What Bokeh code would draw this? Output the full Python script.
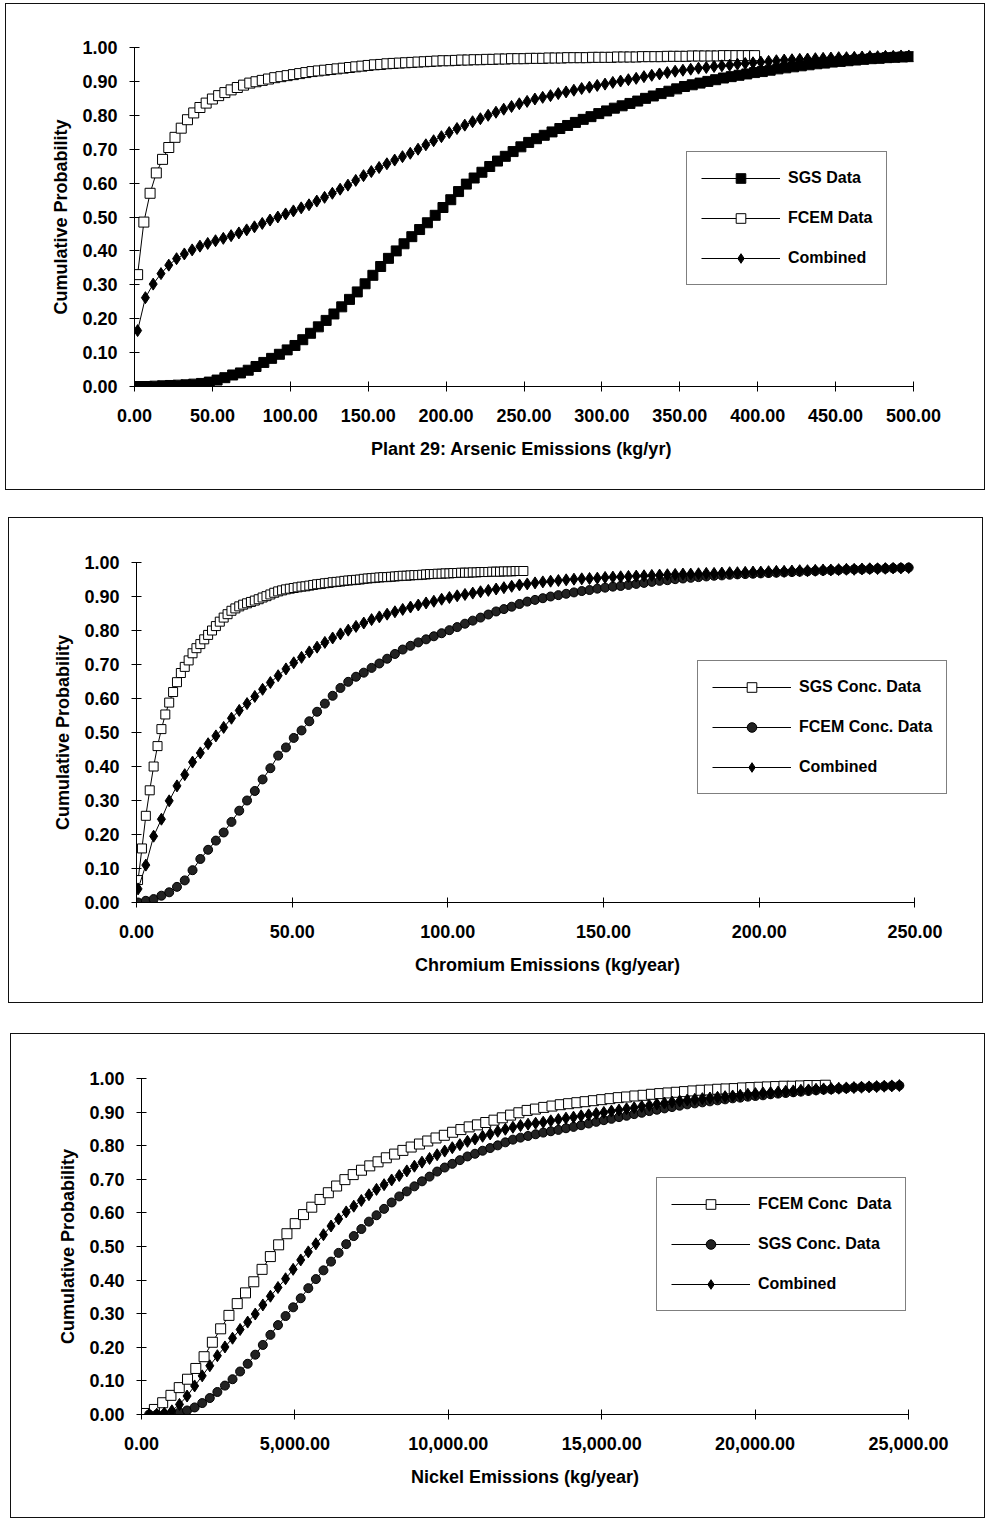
from bokeh.plotting import figure
from bokeh.models import Range1d, FixedTicker, NumeralTickFormatter, Legend, LegendItem
from bokeh.layouts import column
from bokeh.embed import file_html
from bokeh.resources import INLINE

FONT = "Liberation Sans"
Y_TICKS = [0.0, 0.1, 0.2, 0.3, 0.4, 0.5, 0.6, 0.7, 0.8, 0.9, 1.0]

# ---------------- Panel 1: Plant 29 Arsenic ----------------
p1_x_ticks = [0, 50, 100, 150, 200, 250, 300, 350, 400, 450, 500]
p1_sgs_x0, p1_sgs_dx = 3, 5
p1_sgs_y = [0.000, 0.000, 0.001, 0.002, 0.003, 0.004, 0.005, 0.007, 0.009, 0.013,
            0.019, 0.026, 0.034, 0.040, 0.048, 0.059, 0.071, 0.083, 0.095, 0.108,
            0.121, 0.138, 0.157, 0.176, 0.195, 0.214, 0.235, 0.257, 0.279, 0.303,
            0.328, 0.354, 0.378, 0.400, 0.421, 0.442, 0.463, 0.483, 0.505, 0.528,
            0.551, 0.575, 0.597, 0.615, 0.632, 0.649, 0.665, 0.679, 0.693, 0.707,
            0.720, 0.731, 0.741, 0.751, 0.761, 0.770, 0.779, 0.788, 0.796, 0.805,
            0.813, 0.821, 0.828, 0.835, 0.842, 0.850, 0.857, 0.864, 0.871, 0.878,
            0.885, 0.890, 0.895, 0.900, 0.905, 0.910, 0.914, 0.918, 0.922, 0.926,
            0.929, 0.933, 0.937, 0.940, 0.943, 0.946, 0.949, 0.952, 0.954, 0.957,
            0.959, 0.961, 0.963, 0.965, 0.967, 0.968, 0.970, 0.971, 0.972, 0.973]
p1_fcem_x0, p1_fcem_dx = 2, 4
p1_fcem_y = [0.330, 0.485, 0.570, 0.630, 0.670, 0.705, 0.735, 0.762, 0.787, 0.807,
             0.823, 0.836, 0.848, 0.858, 0.867, 0.875, 0.882, 0.889, 0.895, 0.899,
             0.903, 0.907, 0.911, 0.914, 0.917, 0.920, 0.923, 0.926, 0.929, 0.931,
             0.933, 0.935, 0.937, 0.939, 0.941, 0.943, 0.945, 0.947, 0.949, 0.950,
             0.952, 0.953, 0.954, 0.955, 0.956, 0.957, 0.958, 0.959, 0.960, 0.961,
             0.961, 0.962, 0.963, 0.963, 0.964, 0.964, 0.965, 0.965, 0.966, 0.966,
             0.967, 0.967, 0.967, 0.968, 0.968, 0.968, 0.969, 0.969, 0.969, 0.970,
             0.970, 0.970, 0.970, 0.971, 0.971, 0.971, 0.971, 0.972, 0.972, 0.972,
             0.972, 0.973, 0.973, 0.973, 0.973, 0.974, 0.974, 0.974, 0.974, 0.975,
             0.975, 0.975, 0.975, 0.975, 0.976, 0.976, 0.976, 0.976, 0.976, 0.976]
p1_comb_x0, p1_comb_dx = 2, 5
p1_comb_y = [0.165, 0.262, 0.302, 0.333, 0.358, 0.377, 0.391, 0.403, 0.414, 0.422,
             0.430, 0.437, 0.445, 0.453, 0.462, 0.471, 0.481, 0.491, 0.500, 0.509,
             0.518, 0.527, 0.536, 0.547, 0.558, 0.570, 0.582, 0.594, 0.608, 0.622,
             0.634, 0.646, 0.657, 0.668, 0.678, 0.688, 0.700, 0.713, 0.725, 0.737,
             0.749, 0.761, 0.771, 0.781, 0.790, 0.800, 0.809, 0.818, 0.826, 0.834,
             0.841, 0.848, 0.853, 0.858, 0.864, 0.869, 0.874, 0.879, 0.883, 0.888,
             0.892, 0.897, 0.901, 0.905, 0.909, 0.914, 0.918, 0.922, 0.926, 0.930,
             0.933, 0.936, 0.939, 0.941, 0.944, 0.946, 0.948, 0.951, 0.953, 0.955,
             0.957, 0.959, 0.961, 0.963, 0.964, 0.965, 0.966, 0.967, 0.968, 0.969,
             0.970, 0.970, 0.971, 0.972, 0.973, 0.973, 0.974, 0.974, 0.975, 0.975]

# ---------------- Panel 2: Chromium ----------------
p2_x_ticks = [0, 50, 100, 150, 200, 250]
p2_sgs_x0, p2_sgs_dx = 0.5, 1.25
p2_sgs_y = [0.066, 0.159, 0.255, 0.330, 0.400, 0.460, 0.510, 0.553, 0.588, 0.619,
            0.648, 0.675, 0.693, 0.712, 0.733, 0.748, 0.760, 0.774, 0.787, 0.800,
            0.813, 0.826, 0.838, 0.848, 0.858, 0.865, 0.871, 0.876, 0.880, 0.884,
            0.888, 0.892, 0.897, 0.901, 0.906, 0.911, 0.915, 0.918, 0.921, 0.923,
            0.925, 0.927, 0.929, 0.930, 0.932, 0.934, 0.936, 0.937, 0.939, 0.940,
            0.942, 0.943, 0.944, 0.946, 0.947, 0.948, 0.949, 0.950, 0.952, 0.953,
            0.954, 0.955, 0.956, 0.957, 0.957, 0.958, 0.959, 0.960, 0.961, 0.961,
            0.962, 0.963, 0.963, 0.964, 0.965, 0.966, 0.966, 0.967, 0.967, 0.968,
            0.968, 0.969, 0.969, 0.970, 0.970, 0.970, 0.971, 0.971, 0.972, 0.972,
            0.972, 0.973, 0.973, 0.973, 0.974, 0.974, 0.974, 0.975, 0.975, 0.975]
p2_fcem_x0, p2_fcem_dx = 0.5, 2.5
p2_fcem_y = [0.000, 0.005, 0.010, 0.020, 0.030, 0.046, 0.065, 0.095, 0.128, 0.155,
             0.182, 0.206, 0.237, 0.270, 0.300, 0.328, 0.362, 0.395, 0.432, 0.456,
             0.484, 0.506, 0.533, 0.561, 0.585, 0.608, 0.631, 0.649, 0.664, 0.676,
             0.690, 0.703, 0.717, 0.731, 0.744, 0.755, 0.765, 0.774, 0.783, 0.792,
             0.801, 0.810, 0.820, 0.829, 0.838, 0.847, 0.856, 0.863, 0.870, 0.878,
             0.885, 0.890, 0.895, 0.900, 0.904, 0.908, 0.912, 0.916, 0.919, 0.923,
             0.926, 0.929, 0.931, 0.934, 0.937, 0.940, 0.943, 0.946, 0.948, 0.951,
             0.953, 0.955, 0.957, 0.959, 0.961, 0.962, 0.964, 0.965, 0.966, 0.967,
             0.968, 0.969, 0.970, 0.971, 0.972, 0.973, 0.974, 0.975, 0.976, 0.977,
             0.978, 0.979, 0.980, 0.980, 0.981, 0.982, 0.982, 0.983, 0.984, 0.985]
p2_comb_x0, p2_comb_dx = 0.5, 2.5
p2_comb_y = [0.040, 0.110, 0.195, 0.245, 0.299, 0.343, 0.376, 0.413, 0.440, 0.467,
             0.490, 0.515, 0.542, 0.565, 0.585, 0.606, 0.627, 0.647, 0.667, 0.687,
             0.705, 0.721, 0.737, 0.751, 0.765, 0.778, 0.790, 0.801, 0.812, 0.822,
             0.832, 0.840, 0.848, 0.855, 0.862, 0.869, 0.875, 0.881, 0.886, 0.892,
             0.897, 0.902, 0.906, 0.910, 0.914, 0.918, 0.922, 0.926, 0.930, 0.934,
             0.937, 0.940, 0.943, 0.945, 0.947, 0.949, 0.951, 0.952, 0.953, 0.954,
             0.956, 0.957, 0.958, 0.959, 0.960, 0.961, 0.962, 0.963, 0.964, 0.965,
             0.966, 0.966, 0.967, 0.968, 0.968, 0.969, 0.970, 0.970, 0.971, 0.972,
             0.972, 0.973, 0.974, 0.974, 0.975, 0.976, 0.976, 0.977, 0.978, 0.978,
             0.979, 0.980, 0.980, 0.981, 0.982, 0.982, 0.983, 0.984, 0.984, 0.985]

# ---------------- Panel 3: Nickel ----------------
p3_x_ticks = [0, 5000, 10000, 15000, 20000, 25000]
p3_fcem_x0, p3_fcem_dx = 150, 270
p3_fcem_y = [0.003, 0.015, 0.035, 0.057, 0.080, 0.105, 0.137, 0.172, 0.215, 0.255,
             0.295, 0.330, 0.362, 0.395, 0.432, 0.470, 0.505, 0.538, 0.568, 0.595,
             0.617, 0.640, 0.660, 0.680, 0.699, 0.714, 0.727, 0.740, 0.752, 0.764,
             0.775, 0.786, 0.796, 0.805, 0.814, 0.823, 0.831, 0.840, 0.848, 0.856,
             0.862, 0.869, 0.876, 0.883, 0.891, 0.898, 0.905, 0.909, 0.914, 0.918,
             0.922, 0.925, 0.928, 0.931, 0.934, 0.937, 0.940, 0.943, 0.945, 0.948,
             0.950, 0.953, 0.955, 0.957, 0.959, 0.961, 0.963, 0.965, 0.966, 0.968,
             0.969, 0.970, 0.972, 0.973, 0.974, 0.975, 0.976, 0.977, 0.977, 0.978,
             0.979, 0.979, 0.980]
p3_sgs_x0, p3_sgs_dx = 250, 247
p3_sgs_y = [0.000, 0.000, 0.001, 0.003, 0.007, 0.012, 0.021, 0.034, 0.049, 0.067,
            0.086, 0.105, 0.128, 0.151, 0.178, 0.207, 0.237, 0.266, 0.293, 0.319,
            0.346, 0.376, 0.403, 0.429, 0.455, 0.481, 0.507, 0.531, 0.552, 0.574,
            0.593, 0.612, 0.631, 0.649, 0.664, 0.679, 0.694, 0.708, 0.723, 0.735,
            0.746, 0.757, 0.768, 0.776, 0.785, 0.793, 0.801, 0.810, 0.818, 0.824,
            0.829, 0.834, 0.839, 0.843, 0.847, 0.852, 0.856, 0.861, 0.866, 0.871,
            0.876, 0.880, 0.885, 0.889, 0.894, 0.898, 0.903, 0.907, 0.911, 0.915,
            0.919, 0.923, 0.926, 0.929, 0.932, 0.935, 0.938, 0.941, 0.943, 0.946,
            0.948, 0.950, 0.953, 0.955, 0.957, 0.959, 0.961, 0.963, 0.965, 0.967,
            0.968, 0.970, 0.971, 0.973, 0.974, 0.975, 0.976, 0.977, 0.978, 0.979]
p3_comb_x0, p3_comb_dx = 250, 247
p3_comb_y = [0.000, 0.001, 0.004, 0.011, 0.030, 0.055, 0.085, 0.115, 0.145, 0.175,
             0.201, 0.227, 0.253, 0.275, 0.299, 0.326, 0.352, 0.378, 0.404, 0.432,
             0.460, 0.484, 0.508, 0.535, 0.561, 0.582, 0.603, 0.620, 0.637, 0.654,
             0.670, 0.684, 0.698, 0.711, 0.725, 0.739, 0.751, 0.762, 0.773, 0.784,
             0.794, 0.803, 0.813, 0.820, 0.828, 0.835, 0.843, 0.849, 0.855, 0.860,
             0.864, 0.867, 0.870, 0.874, 0.878, 0.882, 0.885, 0.889, 0.892, 0.896,
             0.899, 0.903, 0.906, 0.910, 0.913, 0.917, 0.920, 0.924, 0.927, 0.930,
             0.933, 0.936, 0.938, 0.940, 0.942, 0.944, 0.946, 0.948, 0.950, 0.953,
             0.955, 0.957, 0.958, 0.960, 0.962, 0.963, 0.965, 0.966, 0.968, 0.969,
             0.970, 0.971, 0.972, 0.973, 0.974, 0.975, 0.976, 0.977, 0.978, 0.979]


def xs_for(x0, dx, ys):
    return [x0 + dx * i for i in range(len(ys))]


MARKERS = {
    "filled_square": dict(marker="square", size=10, fill_color="black"),
    "open_square": dict(marker="square", size=10, fill_color="white"),
    "open_square_s": dict(marker="square", size=9, fill_color="white"),
    "diamond": dict(marker="diamond", size=12, fill_color="black"),
    "circle": dict(marker="circle", size=9, fill_color="#222222"),
}


def make_panel(width, height, margin, x_end, x_bounds, x_ticks, x_fmt, x_label,
               borders, series, legend_loc):
    left, right, top, bottom = borders
    p = figure(width=width, height=height,
               x_range=Range1d(0, x_end), y_range=Range1d(0, 1.0),
               output_backend="svg", toolbar_location=None,
               min_border_left=left, min_border_right=right,
               min_border_top=top, min_border_bottom=bottom,
               margin=margin, frame_align=False,
               styles={"border": "1px solid #111111", "box-sizing": "border-box"})
    p.grid.visible = False
    p.outline_line_color = None
    p.background_fill_color = "white"
    p.border_fill_color = "white"
    for ax in (p.xaxis[0], p.yaxis[0]):
        ax.axis_line_color = "black"
        ax.axis_line_width = 1
        ax.major_tick_line_color = "black"
        ax.major_tick_in = 5
        ax.major_tick_out = 5
        ax.minor_tick_line_color = None
        ax.major_label_text_font = FONT
        ax.major_label_text_font_style = "bold"
        ax.major_label_text_font_size = "18px"
        ax.major_label_text_color = "black"
        ax.axis_label_text_font = FONT
        ax.axis_label_text_font_style = "bold"
        ax.axis_label_text_font_size = "18px"
        ax.axis_label_text_color = "black"
    p.yaxis.ticker = FixedTicker(ticks=Y_TICKS)
    p.yaxis.formatter = NumeralTickFormatter(format="0.00")
    p.yaxis.axis_label = "Cumulative Probability"
    p.yaxis.major_label_standoff = 12
    p.yaxis.axis_label_standoff = 8
    p.xaxis.ticker = FixedTicker(ticks=x_ticks)
    p.xaxis.formatter = NumeralTickFormatter(format=x_fmt)
    p.xaxis.axis_label = x_label
    p.xaxis.major_label_standoff = 17
    p.xaxis.axis_label_standoff = 14
    p.xaxis.bounds = x_bounds

    items = []
    for name, xs, ys, mk in series:
        ln = p.line(xs, ys, line_color="black", line_width=1)
        st = MARKERS[mk]
        sc = p.scatter(xs, ys, marker=st["marker"], size=st["size"],
                       fill_color=st["fill_color"], line_color="black", line_width=1)
        items.append(LegendItem(label=name, renderers=[ln, sc]))
    lg = Legend(items=items, location=legend_loc, margin=0, padding=14,
                spacing=16, glyph_width=79, glyph_height=24, label_height=20,
                label_standoff=8, border_line_color="black", border_line_width=1,
                background_fill_color="white", background_fill_alpha=1.0,
                label_text_font=FONT, label_text_font_style="bold",
                label_text_font_size="16px", label_text_color="black")
    p.add_layout(lg)
    return p


p1 = make_panel(980, 487, (3, 0, 0, 5), 500, (0, 500), p1_x_ticks, "0.00",
                "Plant 29:  Arsenic Emissions (kg/yr)",
                (128, 73, 43, 105),
                [("SGS Data", xs_for(p1_sgs_x0, p1_sgs_dx, p1_sgs_y), p1_sgs_y, "filled_square"),
                 ("FCEM Data", xs_for(p1_fcem_x0, p1_fcem_dx, p1_fcem_y), p1_fcem_y, "open_square"),
                 ("Combined", xs_for(p1_comb_x0, p1_comb_dx, p1_comb_y), p1_comb_y, "diamond")],
                (552, 101))

p2 = make_panel(975, 486, (27, 0, 0, 8), 264, (0, 250), p2_x_ticks, "0.00",
                "Chromium Emissions (kg/year)",
                (127, 26, 44, 102),
                [("SGS Conc. Data", xs_for(p2_sgs_x0, p2_sgs_dx, p2_sgs_y), p2_sgs_y, "open_square_s"),
                 ("FCEM Conc. Data", xs_for(p2_fcem_x0, p2_fcem_dx, p2_fcem_y), p2_fcem_y, "circle"),
                 ("Combined", xs_for(p2_comb_x0, p2_comb_dx, p2_comb_y), p2_comb_y, "diamond")],
                (561, 108))

p3 = make_panel(975, 485, (30, 0, 0, 10), 25000, (0, 25000), p3_x_ticks, "0,0.00",
                "Nickel Emissions (kg/year)",
                (130, 78, 44, 105),
                [("FCEM Conc  Data", xs_for(p3_fcem_x0, p3_fcem_dx, p3_fcem_y), p3_fcem_y, "open_square"),
                 ("SGS Conc. Data", xs_for(p3_sgs_x0, p3_sgs_dx, p3_sgs_y), p3_sgs_y, "circle"),
                 ("Combined", xs_for(p3_comb_x0, p3_comb_dx, p3_comb_y), p3_comb_y, "diamond")],
                (515, 103))

layout = column(p1, p2, p3, spacing=0)
open("out.html", "w").write(file_html(layout, INLINE))
